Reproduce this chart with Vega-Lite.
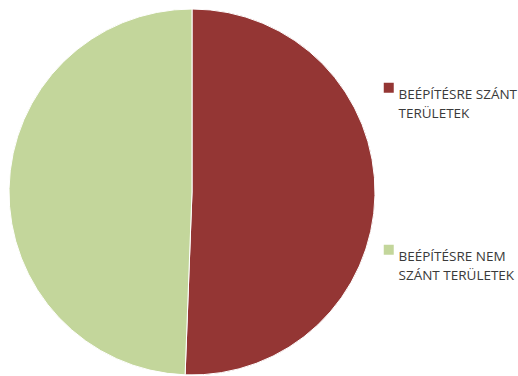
{
  "$schema": "https://vega.github.io/schema/vega-lite/v6.json",
  "width": 384,
  "height": 384,
  "padding": 0,
  "autosize": {"type": "pad"},
  "background": "white",
  "data": {"values": [
    {"kategoria": "BEÉPÍTÉSRE SZÁNT|TERÜLETEK", "ertek": 50.6, "sorrend": 1},
    {"kategoria": "BEÉPÍTÉSRE NEM|SZÁNT TERÜLETEK", "ertek": 49.4, "sorrend": 2}
  ]},
  "mark": {"type": "arc", "radius": 183, "stroke": "white", "strokeWidth": 1},
  "encoding": {
    "theta": {"field": "ertek", "type": "quantitative", "stack": true},
    "order": {"field": "sorrend", "type": "quantitative"},
    "color": {
      "field": "kategoria",
      "type": "nominal",
      "sort": ["BEÉPÍTÉSRE SZÁNT|TERÜLETEK", "BEÉPÍTÉSRE NEM|SZÁNT TERÜLETEK"],
      "scale": {"domain": ["BEÉPÍTÉSRE SZÁNT|TERÜLETEK", "BEÉPÍTÉSRE NEM|SZÁNT TERÜLETEK"], "range": ["#943634", "#C3D69B"]},
      "legend": {
        "title": null,
        "orient": "none",
        "legendX": 382,
        "legendY": 81,
        "symbolType": "square",
        "symbolSize": 100,
        "symbolStrokeWidth": 0,
        "labelExpr": "split(datum.label, '|')",
        "labelFont": "Open Sans",
        "labelFontSize": 13.5,
        "labelFontWeight": 500,
        "labelColor": "#3a3a3a",
        "labelLimit": 0,
        "labelOffset": 3,
        "rowPadding": 122,
        "labelBaseline": "top"
      }
    }
  },
  "config": {
    "view": {"stroke": null},
    "style": {"guide-label": {"lineHeight": 19}}
  }
}
